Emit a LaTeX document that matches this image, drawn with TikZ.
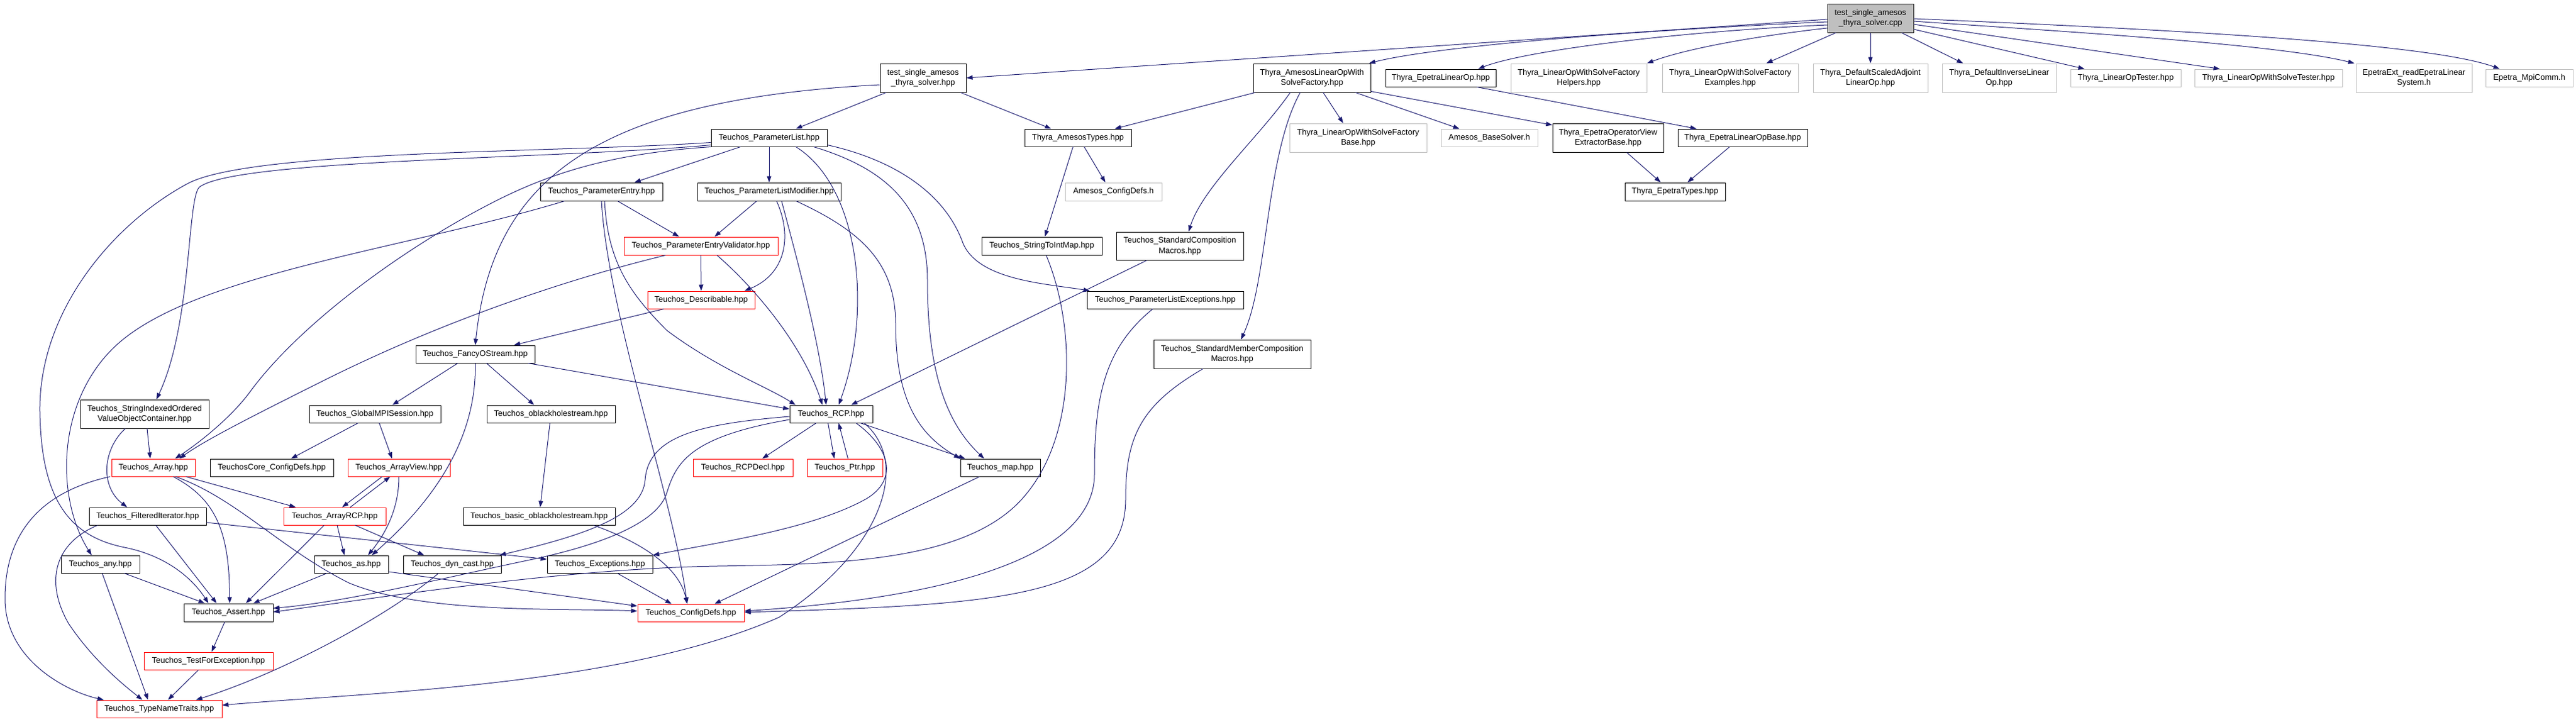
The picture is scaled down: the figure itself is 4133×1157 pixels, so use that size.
\documentclass[tikz,border=0pt]{standalone}
\usepackage{fontspec}
\setmainfont{Liberation Sans}
\usetikzlibrary{arrows.meta,calc}
\definecolor{edgeblue}{RGB}{25,25,112}
\definecolor{grey75}{RGB}{191,191,191}
\begin{document}
\begin{tikzpicture}[x=1pt,y=-1pt,>={Triangle[length=10pt,width=7pt]},line join=round,
	font=\fontsize{13}{16.5}\selectfont,
	file/.style={draw=black,fill=white,line width=1pt,inner sep=0pt,align=center},
	extfile/.style={file,draw=grey75},
	cutfile/.style={file,draw=red},
	rootfile/.style={file,fill=grey75},
	wh/.style 2 args={minimum width=#1pt,minimum height=#2pt},
	dep/.style={->,draw=edgeblue,line width=1pt}]
	% Khung
	\fill [white] (0,0) rectangle (4133,1157);
	\useasboundingbox (0,0) rectangle (4133,1157);
	% Hàng 1
	\node [rootfile,wh={138}{46}] (src) at (3001,29) {test\_single\_amesos\\\_thyra\_solver.cpp};
	% Hàng 2
	\node [file,wh={138}{46}] (tsth) at (1481,125) {test\_single\_amesos\\\_thyra\_solver.hpp};
	\node [file,wh={188}{46}] (alf) at (2105,125) {Thyra\_AmesosLinearOpWith\\SolveFactory.hpp};
	\node [file,wh={177}{28}] (elo) at (2311.5,125) {Thyra\_EpetraLinearOp.hpp};
	\node [extfile,wh={218}{46}] (hlp) at (2533,125) {Thyra\_LinearOpWithSolveFactory\\Helpers.hpp};
	\node [extfile,wh={218}{46}] (exm) at (2776,125) {Thyra\_LinearOpWithSolveFactory\\Examples.hpp};
	\node [extfile,wh={184}{46}] (sal) at (3001,125) {Thyra\_DefaultScaledAdjoint\\LinearOp.hpp};
	\node [extfile,wh={183}{46}] (dil) at (3207.5,125) {Thyra\_DefaultInverseLinear\\Op.hpp};
	\node [extfile,wh={177}{28}] (lot) at (3410.5,125) {Thyra\_LinearOpTester.hpp};
	\node [extfile,wh={237}{28}] (lst) at (3639.5,125) {Thyra\_LinearOpWithSolveTester.hpp};
	\node [extfile,wh={186}{46}] (eext) at (3873,125) {EpetraExt\_readEpetraLinear\\System.h};
	\node [extfile,wh={140}{28}] (mpi) at (4058,125) {Epetra\_MpiComm.h};
	% Hàng 3
	\node [file,wh={186}{28}] (plist) at (1234,221) {Teuchos\_ParameterList.hpp};
	\node [file,wh={171}{28}] (atyp) at (1729.5,221) {Thyra\_AmesosTypes.hpp};
	\node [extfile,wh={220}{46}] (lfb) at (2179,221) {Thyra\_LinearOpWithSolveFactory\\Base.hpp};
	\node [extfile,wh={155}{28}] (abs) at (2389.5,221) {Amesos\_BaseSolver.h};
	\node [file,wh={178}{46}] (eov) at (2580,221) {Thyra\_EpetraOperatorView\\ExtractorBase.hpp};
	\node [file,wh={208}{28}] (elb) at (2796,221) {Thyra\_EpetraLinearOpBase.hpp};
	% Hàng 4
	\node [file,wh={196}{29}] (pent) at (965,307.5) {Teuchos\_ParameterEntry.hpp};
	\node [file,wh={230}{29}] (plm) at (1234,307.5) {Teuchos\_ParameterListModifier.hpp};
	\node [extfile,wh={155}{29}] (acd) at (1786.5,307.5) {Amesos\_ConfigDefs.h};
	\node [file,wh={161}{29}] (ety) at (2687.5,307.5) {Thyra\_EpetraTypes.hpp};
	% Hàng 5
	\node [cutfile,wh={247}{29}] (pev) at (1124.5,394.5) {Teuchos\_ParameterEntryValidator.hpp};
	\node [file,wh={193}{29}] (s2i) at (1671.5,394.5) {Teuchos\_StringToIntMap.hpp};
	\node [file,wh={204}{45}] (scm) at (1893,394.5) {Teuchos\_StandardComposition\\Macros.hpp};
	% Hàng 6
	\node [cutfile,wh={172}{28}] (desc) at (1125,481) {Teuchos\_Describable.hpp};
	\node [file,wh={251}{28}] (plx) at (1869.5,481) {Teuchos\_ParameterListExceptions.hpp};
	% Hàng 7
	\node [file,wh={191}{28}] (fos) at (762.5,568) {Teuchos\_FancyOStream.hpp};
	\node [file,wh={252}{46}] (smc) at (1977,568) {Teuchos\_StandardMemberComposition\\Macros.hpp};
	% Hàng 8
	\node [file,wh={206}{46}] (sio) at (232,664) {Teuchos\_StringIndexedOrdered\\ValueObjectContainer.hpp};
	\node [file,wh={211}{28}] (gms) at (601.5,664) {Teuchos\_GlobalMPISession.hpp};
	\node [file,wh={206}{28}] (obh) at (884,664) {Teuchos\_oblackholestream.hpp};
	\node [file,wh={133}{28}] (rcp) at (1333.5,664) {Teuchos\_RCP.hpp};
	% Hàng 9
	\node [cutfile,wh={134}{28}] (arr) at (246,750) {Teuchos\_Array.hpp};
	\node [file,wh={198}{28}] (tcd) at (436,750) {TeuchosCore\_ConfigDefs.hpp};
	\node [cutfile,wh={164}{28}] (aview) at (640,750) {Teuchos\_ArrayView.hpp};
	\node [cutfile,wh={160}{28}] (rcpd) at (1192,750) {Teuchos\_RCPDecl.hpp};
	\node [cutfile,wh={121}{28}] (ptr) at (1355.5,750) {Teuchos\_Ptr.hpp};
	\node [file,wh={128}{28}] (map) at (1605,750) {Teuchos\_map.hpp};
	% Hàng 10
	\node [file,wh={188}{28}] (fit) at (237,828) {Teuchos\_FilteredIterator.hpp};
	\node [cutfile,wh={164}{28}] (arcp) at (537,828) {Teuchos\_ArrayRCP.hpp};
	\node [file,wh={244}{28}] (bob) at (865,828) {Teuchos\_basic\_oblackholestream.hpp};
	% Hàng 11
	\node [file,wh={126}{28}] (any) at (161,905) {Teuchos\_any.hpp};
	\node [file,wh={119}{28}] (as) at (563.5,905) {Teuchos\_as.hpp};
	\node [file,wh={157}{28}] (dyn) at (725.5,905) {Teuchos\_dyn\_cast.hpp};
	\node [file,wh={169}{28}] (exc) at (962.5,905) {Teuchos\_Exceptions.hpp};
	% Hàng 12 - 14
	\node [file,wh={143}{29}] (ast) at (366.5,982.5) {Teuchos\_Assert.hpp};
	\node [cutfile,wh={171}{28}] (cfd) at (1108.5,983) {Teuchos\_ConfigDefs.hpp};
	\node [cutfile,wh={207}{28}] (tfe) at (334.5,1060) {Teuchos\_TestForException.hpp};
	\node [cutfile,wh={201}{28}] (tnt) at (255.5,1137) {Teuchos\_TypeNameTraits.hpp};
	% Mũi tên từ tệp gốc
	\draw [dep] ($(src.west)+(0,2)$) -- (tsth.east);
	\draw [dep] ($(src.west)+(0,6)$) .. controls (2600,50) and (2300,75) .. ($(alf.north east)+(-3,0)$);
	\draw [dep] ($(src.west)+(0,11)$) .. controls (2700,50) and (2450,80) .. ($(elo.north)+(60,0)$);
	\draw [dep] ($(src.west)+(0,16)$) .. controls (2800,60) and (2700,80) .. (hlp.north east);
	\draw [dep] ($(src.south west)+(14,0)$) -- ($(exm.north)+(58,0)$);
	\draw [dep] (src) -- (sal);
	\draw [dep] ($(src.south)+(50,0)$) -- ($(dil.north)+(-58,0)$);
	\draw [dep] ($(src.east)+(0,18)$) -- ($(lot.north)+(-66,0)$);
	\draw [dep] ($(src.east)+(0,10)$) -- ($(lst.north)+(-78,0)$);
	\draw [dep] ($(src.east)+(0,5)$) .. controls (3300,50) and (3650,70) .. ($(eext.north west)+(-2,0)$);
	\draw [dep] ($(src.east)+(0,1)$) .. controls (3500,48) and (3900,70) .. ($(mpi.north west)+(23,0)$);
	% Hàng 2
	\draw [dep] ($(tsth.south west)+(10,0)$) -- ($(plist.north)+(43,0)$);
	\draw [dep] ($(tsth.south east)+(-9,0)$) -- ($(atyp.north)+(-43,0)$);
	\draw [dep] ($(tsth.west)+(0,11)$) .. controls (950,160) and (790,290) .. (fos.north);
	\draw [dep] ($(alf.south west)+(3,0)$) -- ($(atyp.north east)+(-27,0)$);
	\draw [dep] ($(alf.south)+(-35,0)$) .. controls (2020,220) and (1930,300) .. ($(scm.north)+(14,0)$);
	\draw [dep] ($(alf.south)+(-19,0)$) .. controls (2030,250) and (2035,450) .. ($(smc.north)+(14,0)$);
	\draw [dep] ($(alf.south)+(18,0)$) -- ($(lfb.north)+(-24,0)$);
	\draw [dep] ($(alf.south)+(70,0)$) -- ($(abs.north)+(-48,0)$);
	\draw [dep] ($(alf.south east)+(0,-2)$) -- ($(eov.north west)+(0,3)$);
	\draw [dep] ($(elo.south)+(58,0)$) -- ($(elb.north)+(-74,0)$);
	% Hàng 3
	\draw [dep] ($(plist.south)+(-46,0)$) -- ($(pent.north)+(53,0)$);
	\draw [dep] (plist) -- (plm);
	\draw [dep] ($(plist.south west)+(0,-3)$) .. controls (900,255) and (380,255) .. (320,300) .. controls (300,318) and (308,520) .. ($(sio.north)+(19,0)$);
	\draw [dep] ($(plist.south west)+(0,-7)$) .. controls (900,245) and (400,240) .. (300,295) .. controls (180,360) and (62,500) .. (64,660) .. controls (66,800) and (110,860) .. (200,878) .. controls (270,892) and (310,930) .. ($(ast.north)+(-32,0)$);
	\draw [dep] (plist.south west) .. controls (1000,245) and (900,270) .. (800,320) .. controls (650,395) and (480,520) .. (400,630) .. controls (370,670) and (320,710) .. ($(arr.north)+(35,0)$);
	\draw [dep] ($(plist.south)+(43,0)$) .. controls (1380,300) and (1400,500) .. ($(rcp.north)+(12,0)$);
	\draw [dep] ($(plist.south east)+(-22,0)$) .. controls (1420,270) and (1488,330) .. (1488,450) .. controls (1488,600) and (1520,680) .. ($(map.north)+(-26,0)$);
	\draw [dep] ($(plist.south east)+(0,-3)$) .. controls (1450,260) and (1520,320) .. (1545,390) .. controls (1570,450) and (1680,455) .. ($(plx.north west)+(5,0)$);
	\draw [dep] ($(atyp.south)+(10,0)$) -- ($(acd.north)+(-13,0)$);
	\draw [dep] ($(atyp.south)+(-8,0)$) -- ($(s2i.north)+(5,0)$);
	\draw [dep] ($(eov.south)+(30,0)$) -- ($(ety.north)+(-23,0)$);
	\draw [dep] ($(elb.south)+(-21,0)$) -- ($(ety.north)+(20,0)$);
	% Hàng 4
	\draw [dep] ($(pent.south)+(26,0)$) -- ($(pev.north)+(-35,0)$);
	\draw [dep] ($(pent.south west)+(39,0)$) .. controls (650,400) and (300,440) .. (180,560) .. controls (90,650) and (90,800) .. ($(any.north)+(-14,0)$);
	\draw [dep] ($(pent.south)+(5,0)$) .. controls (975,420) and (1010,470) .. (1070,530) .. controls (1150,590) and (1230,620) .. ($(rcp.north west)+(10,0)$);
	\draw [dep] (pent.south) .. controls (975,500) and (1080,800) .. ($(cfd.north)+(-6,0)$);
	\draw [dep] ($(plm.south)+(-20,0)$) -- ($(pev.north)+(22,0)$);
	\draw [dep] ($(plm.south)+(12,0)$) .. controls (1272,380) and (1260,440) .. ($(desc.north east)+(-17,0)$);
	\draw [dep] ($(plm.south)+(20,0)$) .. controls (1280,420) and (1315,550) .. ($(rcp.north)+(-8,0)$);
	\draw [dep] ($(plm.south east)+(-72,0)$) .. controls (1380,370) and (1437,420) .. (1437,520) .. controls (1437,650) and (1480,700) .. (map.north west);
	% Hàng 5 - 7
	\draw [dep] (pev) -- (desc);
	\draw [dep] ($(pev.south west)+(67,0)$) .. controls (900,450) and (700,520) .. (520,610) .. controls (420,660) and (330,705) .. ($(arr.north)+(42,0)$);
	\draw [dep] ($(pev.south)+(26,0)$) .. controls (1220,470) and (1290,560) .. ($(rcp.north)+(-14,0)$);
	\draw [dep] ($(s2i.south)+(7,0)$) .. controls (1725,520) and (1730,700) .. (1640,800) .. controls (1550,900) and (1350,905) .. (1150,908) .. controls (900,912) and (600,960) .. ($(ast.east)+(0,-1)$);
	\draw [dep] ($(scm.south)+(-53,0)$) -- ($(rcp.north east)+(-35,0)$);
	\draw [dep] (desc) -- ($(fos.north east)+(-34,0)$);
	\draw [dep] ($(plx.south)+(-20,0)$) .. controls (1770,560) and (1756,640) .. (1756,760) .. controls (1756,900) and (1500,960) .. ($(cfd.east)+(0,-3)$);
	\draw [dep] ($(smc.south)+(-47,0)$) .. controls (1830,650) and (1806,700) .. (1806,800) .. controls (1806,960) and (1600,970) .. ($(cfd.east)+(0,-1)$);
	\draw [dep] ($(fos.south)+(-28,0)$) -- ($(gms.north)+(28,0)$);
	\draw [dep] ($(fos.south)+(18,0)$) -- ($(obh.north)+(-27,0)$);
	\draw [dep] ($(fos.south east)+(-11,0)$) -- ($(rcp.west)+(0,-8)$);
	\draw [dep] (fos.south) .. controls (765,700) and (700,800) .. ($(as.north east)+(-27,0)$);
	% Hàng 8
	\draw [dep] ($(sio.south)+(4,0)$) -- ($(arr.north)+(-5,0)$);
	\draw [dep] ($(sio.south)+(-31,0)$) .. controls (165,720) and (160,780) .. ($(fit.north)+(-33,0)$);
	\draw [dep] ($(gms.south)+(-27,0)$) -- ($(tcd.north)+(31,0)$);
	\draw [dep] ($(gms.south)+(7,0)$) -- ($(aview.north)+(-11,0)$);
	\draw [dep] (obh) -- (bob);
	\draw [dep] ($(rcp.south)+(-24,0)$) -- ($(rcpd.north)+(31,0)$);
	\draw [dep] ($(rcp.south)+(-5,0)$) -- ($(ptr.north)+(-17,0)$);
	\draw [dep] ($(ptr.north)+(5,0)$) -- ($(rcp.south)+(12,0)$);
	\draw [dep] ($(rcp.south east)+(-20,0)$) -- ($(map.north west)+(8,0)$);
	\draw [dep] ($(rcp.south east)+(-27,0)$) .. controls (1430,720) and (1440,770) .. (1390,800) .. controls (1300,850) and (1150,870) .. (exc.north east);
	\draw [dep] ($(rcp.south east)+(-14,0)$) .. controls (1460,740) and (1420,880) .. (1250,990) .. controls (1000,1100) and (600,1110) .. ($(tnt.east)+(0,-6)$);
	\draw [dep] ($(rcp.west)+(0,4)$) .. controls (1120,680) and (1040,700) .. (1035,770) .. controls (1030,830) and (930,860) .. ($(dyn.north east)+(-3,0)$);
	\draw [dep] ($(rcp.west)+(0,9)$) .. controls (1110,700) and (1085,740) .. (1070,790) .. controls (1055,840) and (960,875) .. (850,898) .. controls (720,925) and (560,965) .. ($(ast.east)+(0,-7)$);
	\draw [dep] ($(map.south west)+(31,0)$) -- ($(cfd.north)+(38,0)$);
	% Hàng 9 - 10
	\draw [dep] ($(arr.south east)+(-15,0)$) -- ($(arcp.north west)+(20,0)$);
	\draw [dep] ($(arr.south)+(32,0)$) .. controls (345,800) and (368,850) .. ($(ast.north)+(2,0)$);
	\draw [dep] ($(arr.south)+(36,0)$) .. controls (380,800) and (450,880) .. (560,935) .. controls (680,985) and (900,975) .. ($(cfd.west)+(0,-3)$);
	\draw [dep] ($(arr.south west)+(-2,0)$) .. controls (60,790) and (8,860) .. (8,960) .. controls (8,1060) and (110,1110) .. ($(tnt.north west)+(12,0)$);
	\draw [dep] ($(aview.south)+(-27,0)$) -- ($(arcp.north)+(12,0)$);
	\draw [dep] ($(arcp.north)+(25,0)$) -- ($(aview.south)+(-14,0)$);
	\draw [dep] (aview.south) .. controls (640,820) and (615,860) .. ($(as.north east)+(-33,0)$);
	\draw [dep] ($(fit.south)+(13,0)$) -- ($(ast.north)+(-19,0)$);
	\draw [dep] ($(fit.south west)+(14,0)$) .. controls (90,870) and (70,930) .. (110,1000) .. controls (150,1060) and (200,1100) .. ($(tnt.north)+(-27,0)$);
	\draw [dep] ($(fit.east)+(0,10)$) -- ($(exc.west)+(0,-8)$);
	\draw [dep] ($(arcp.south)+(-17,0)$) -- ($(ast.north)+(28,0)$);
	\draw [dep] ($(arcp.south)+(4,0)$) -- ($(as.north)+(-11,0)$);
	\draw [dep] ($(arcp.south)+(33,0)$) -- ($(dyn.north)+(-45,0)$);
	\draw [dep] ($(bob.south east)+(-35,0)$) .. controls (1030,870) and (1090,910) .. ($(cfd.north)+(-6,0)$);
	% Hàng 11 - 13
	\draw [dep] ($(any.south east)+(-25,0)$) -- ($(ast.north)+(-38,0)$);
	\draw [dep] ($(any.south)+(3,0)$) -- ($(tnt.north)+(-18,0)$);
	\draw [dep] ($(as.south west)+(21,0)$) -- ($(ast.north)+(40,0)$);
	\draw [dep] ($(as.east)+(0,12)$) -- ($(cfd.west)+(0,-11)$);
	\draw [dep] ($(dyn.south)+(-22,0)$) .. controls (620,990) and (450,1080) .. ($(tnt.north east)+(-42,0)$);
	\draw [dep] ($(exc.south)+(28,0)$) -- ($(cfd.north)+(-31,0)$);
	\draw [dep] ($(ast.south)+(-6,0)$) -- ($(tfe.north)+(5,0)$);
	\draw [dep] ($(tfe.south)+(-16,0)$) -- ($(tnt.north)+(14,0)$);
\end{tikzpicture}
\end{document}
